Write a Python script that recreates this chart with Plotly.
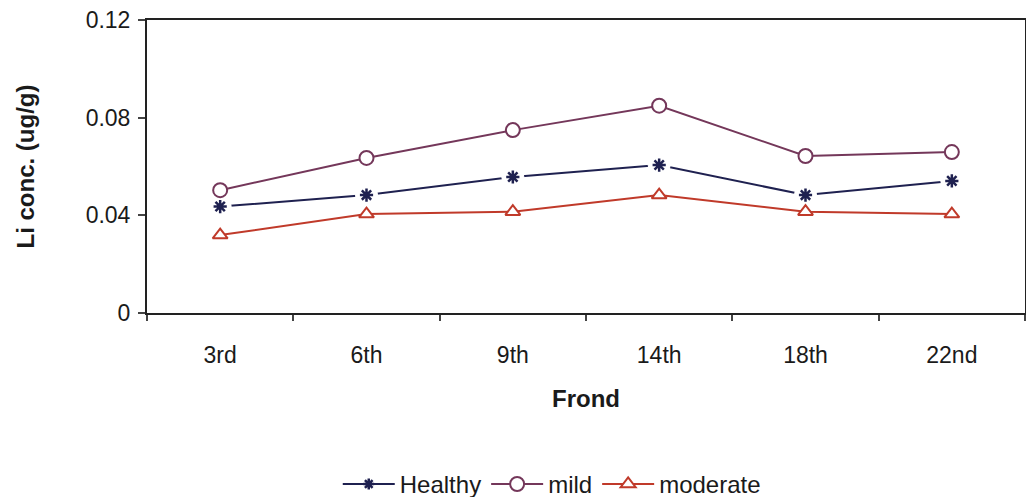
import plotly.graph_objects as go

fronds = ["3rd", "6th", "9th", "14th", "18th", "22nd"]
healthy = [0.0436, 0.0483, 0.0557, 0.0606, 0.0483, 0.0541]
mild = [0.0503, 0.0635, 0.0749, 0.0849, 0.0643, 0.0659]
moderate = [0.0319, 0.0405, 0.0415, 0.0483, 0.0415, 0.0405]

y_ticks = [0, 0.04, 0.08, 0.12]
y_tick_text = ["0", "0.04", "0.08", "0.12"]

FONT = "Liberation Sans, Arial, sans-serif"
TEXT = "#1a1a1a"
NAVY = "#1f2150"
PLUM = "#74375a"
RED = "#c03a2a"

fig = go.Figure()

# Healthy: line broken around each asterisk by a white disc drawn between
# the line and the marker; a separate empty trace carries the legend entry.
fig.add_trace(go.Scatter(
    x=fronds, y=healthy, mode="lines", showlegend=False, hoverinfo="skip",
    line=dict(color=NAVY, width=2),
))
fig.add_trace(go.Scatter(
    x=fronds, y=healthy, mode="markers", showlegend=False, hoverinfo="skip",
    marker=dict(symbol="circle", size=22, color="white", opacity=1,
                line=dict(color="white", width=1)),
))
fig.add_trace(go.Scatter(
    x=fronds, y=healthy, mode="markers", name="Healthy", showlegend=False,
    marker=dict(symbol="asterisk-open", size=11, color=NAVY,
                line=dict(color=NAVY, width=2.5)),
))
fig.add_trace(go.Scatter(
    x=[None], y=[None], name="Healthy", mode="lines+markers",
    line=dict(color=NAVY, width=2),
    marker=dict(symbol="asterisk-open", size=9, color=NAVY,
                line=dict(color=NAVY, width=2.5)),
))
fig.add_trace(go.Scatter(
    x=fronds, y=mild, name="mild", mode="lines+markers",
    line=dict(color=PLUM, width=2),
    marker=dict(symbol="circle", size=14, color="white",
                line=dict(color=PLUM, width=2)),
))
fig.add_trace(go.Scatter(
    x=fronds, y=moderate, name="moderate", mode="lines+markers",
    line=dict(color=RED, width=2),
    marker=dict(symbol="triangle-up", size=13, color="white",
                line=dict(color=RED, width=2)),
))

fig.update_layout(
    width=1026, height=497,
    margin=dict(l=147, r=1, t=20, b=184, autoexpand=False),
    paper_bgcolor="white", plot_bgcolor="white",
    font=dict(family=FONT, color=TEXT),
    showlegend=True,
    legend=dict(orientation="h", x=0.461, xanchor="center",
                y=-0.585, yanchor="middle",
                font=dict(size=24, family=FONT, color=TEXT),
                itemwidth=52, tracegroupgap=0),
)
fig.update_xaxes(
    type="category", range=[-0.5, len(fronds) - 0.5], tickson="boundaries",
    ticks="outside", ticklen=6, tickwidth=1.5, tickcolor="#444",
    ticklabelstandoff=20,
    showline=True, linecolor="#222", linewidth=2, mirror=True,
    showgrid=False,
    tickfont=dict(size=23, family=FONT, color=TEXT),
    title=dict(text="<b>Frond</b>", font=dict(size=24, family=FONT, color=TEXT),
               standoff=24),
)
fig.update_yaxes(
    range=[0, 0.12], tickvals=y_ticks, ticktext=y_tick_text,
    ticks="outside", ticklen=7, tickwidth=1.5, tickcolor="#444",
    ticklabelstandoff=3,
    showline=True, linecolor="#222", linewidth=2, mirror=True,
    showgrid=False, zeroline=False,
    tickfont=dict(size=23, family=FONT, color=TEXT),
    title=dict(text="<b>Li conc. (ug/g)</b>", font=dict(size=24, family=FONT, color=TEXT),
               standoff=44),
)

fig.write_html("out.html")
